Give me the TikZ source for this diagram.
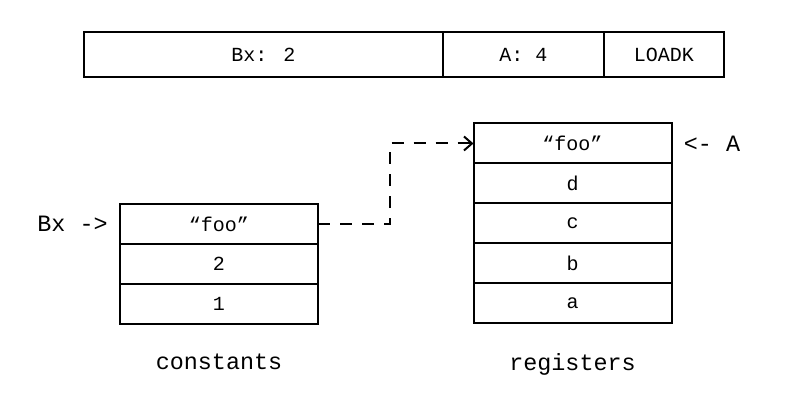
\documentclass[tikz,border=0pt]{standalone}
\usepackage{fontspec}
\setmainfont{Liberation Mono}
\usetikzlibrary{arrows.meta,positioning,calc}

\begin{document}
\begin{tikzpicture}[
    x=0.5pt,y=-0.5pt,
    cell/.style={draw,line width=1pt,outer sep=0pt,inner sep=0pt,
                 minimum width=99pt,minimum height=20pt,
                 font=\fontsize{10}{12}\selectfont},
    field/.style={cell,minimum height=22.5pt},
    lbl/.style={inner sep=0pt,font=\fontsize{11.7}{14}\selectfont},
    ptr/.style={-{Straight Barb[length=4pt,width=7pt]},line width=1pt,
                dash pattern=on 6pt off 5pt},
    node distance=0pt
  ]
    \useasboundingbox (0,0) rectangle (800,400);
    % instruction word
    \node[field,minimum width=179.5pt] (bx) at (263.5,54.5) {Bx: 2};
    \node[field,minimum width=80.5pt,right=of bx] (a) {A: 4};
    \node[field,minimum width=60pt,right=of a] (op) {LOADK};
    % constants
    \node[cell] (cfoo) at (219,224) {“foo”};
    \node[cell,below=of cfoo] (c2) {2};
    \node[cell,below=of c2] (c1) {1};
    \node[lbl,below=15pt of c1] (consts) {constants};
    \node[lbl,left=6pt of cfoo] (bxptr) {Bx ->};
    % registers
    \node[cell] (rfoo) at (572.5,143.5) {“foo”};
    \node[cell,below=of rfoo] (rd) {d};
    \node[cell,below=of rd] (rc) {c};
    \node[cell,below=of rc] (rb) {b};
    \node[cell,below=of rb] (ra) {a};
    \node[lbl,below=15pt of ra] (regs) {registers};
    \node[lbl,right=6pt of rfoo] (aptr) {<- A};
    \draw[ptr] (cfoo.east) -- ++(36pt,0) |- (rfoo.west);
\end{tikzpicture}
\end{document}
